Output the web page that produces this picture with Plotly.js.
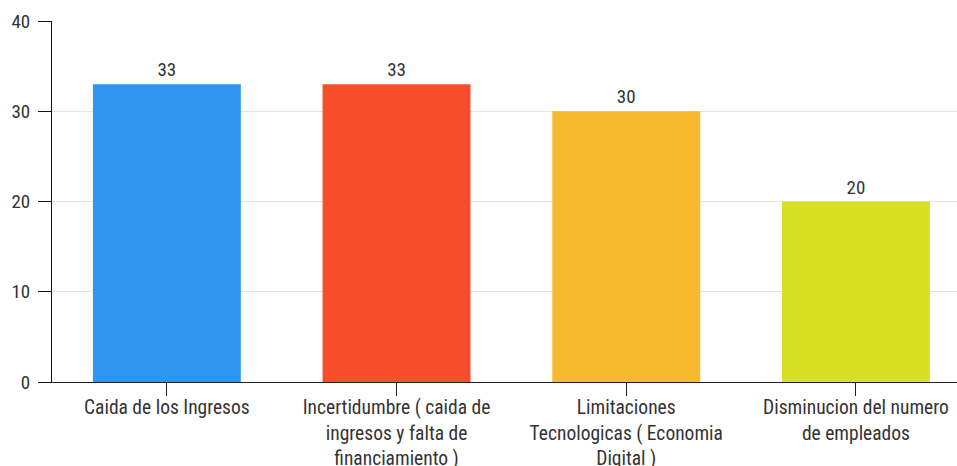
<!DOCTYPE html>
<html><head><meta charset="utf-8">
<script src="https://cdn.plot.ly/plotly-3.0.1.min.js"></script>
<style>html,body{margin:0;padding:0;background:#fff}#chart{width:957px;height:466px}</style>
</head><body><div id="chart"></div>
<script>
var categories = ["Caida de los Ingresos", "Incertidumbre ( caida de<br>ingresos y falta de<br>financiamiento )", "Limitaciones<br>Tecnologicas ( Economia<br>Digital )", "Disminucion del numero<br>de empleados"];
var values = [33, 33, 30, 20];
var barColors = ["#2F95EE", "#F74E2C", "#F6BA2E", "#D7E024"];
var yTicks = [0, 10, 20, 30, 40];

var fontFam = "'Roboto Condensed', 'Liberation Sans Narrow', 'DejaVu Sans Condensed', Roboto, sans-serif";
var trace = {
  type: "bar",
  x: categories.map(function(c, i){ return i; }),
  y: values,
  marker: {color: barColors},
  text: values.map(String),
  textposition: "outside",
  cliponaxis: false,
  textfont: {family: fontFam, size: 19, color: "#333"},
  hoverinfo: "none"
};
var layout = {
  width: 957, height: 466,
  margin: {l: 52, r: 0, t: 21, b: 84},
  paper_bgcolor: "#fff", plot_bgcolor: "#fff",
  bargap: 0.356,
  showlegend: false,
  font: {family: fontFam, size: 19, color: "#333"},
  xaxis: {
    range: [-0.5, 3.44],
    tickmode: "array",
    tickvals: [0, 1, 2, 3],
    ticktext: categories,
    ticks: "outside", ticklen: 13, tickcolor: "#222", tickwidth: 1,
    ticklabelstandoff: -5,
    showline: true, linecolor: "#222", linewidth: 1,
    showgrid: false, zeroline: false,
    tickfont: {family: fontFam, size: 19.5, color: "#333"}
  },
  yaxis: {
    range: [0, 40],
    tickmode: "array", tickvals: yTicks,
    ticks: "outside", ticklen: 13, tickcolor: "#111", tickwidth: 1,
    ticklabelstandoff: 4,
    showline: true, linecolor: "#111", linewidth: 1,
    showgrid: true, gridcolor: "#e3e3e3", gridwidth: 1,
    zeroline: false,
    tickfont: {family: fontFam, size: 19, color: "#333"}
  }
};
Plotly.newPlot("chart", [trace], layout, {displayModeBar: false, staticPlot: true});
</script>
</body></html>
